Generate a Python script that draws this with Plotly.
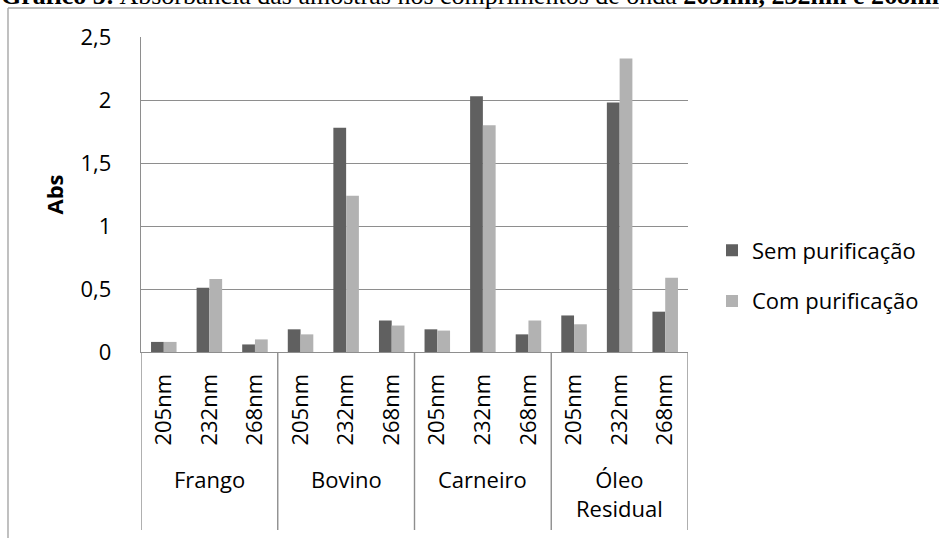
import plotly.graph_objects as go

# ---- data ----
groups = ["Frango", "Bovino", "Carneiro", "Óleo Residual"]
wavelengths = ["205nm", "232nm", "268nm"]
sem_purificacao = [0.08, 0.51, 0.06, 0.18, 1.78, 0.25, 0.18, 2.03, 0.14, 0.29, 1.98, 0.32]
com_purificacao = [0.08, 0.58, 0.10, 0.14, 1.24, 0.21, 0.17, 1.80, 0.25, 0.22, 2.33, 0.59]
y_ticks = [0, 0.5, 1, 1.5, 2, 2.5]
title_text = "<b>Gráfico 5:</b> Absorbância das amostras nos comprimentos de onda <b>205nm, 232nm e 268nm</b>"

# ---- layout geometry (pixels) ----
W, H = 939, 538
PL, PR, PT, PB = 141, 688, 37, 352
pw, ph = PR - PL, PB - PT

def px_x(x):
    return (x - PL) / pw

def px_y(y):
    return (PB - y) / ph

n_w = len(wavelengths)
xs = list(range(len(groups) * n_w))
ticktext = wavelengths * len(groups)

FONT = "Open Sans"
GRID = "#8e8e8e"

fig = go.Figure()
fig.add_bar(x=xs, y=sem_purificacao, name="Sem purificação",
            marker=dict(color="#606060", line=dict(width=0)), legendgroup="a")
fig.add_bar(x=xs, y=com_purificacao, name="Com purificação",
            marker=dict(color="#b2b2b2", line=dict(width=0)), legendgroup="b")

shapes = []
# group dividers below the category axis
for k in range(len(groups) + 1):
    xv = k * n_w - 0.5
    shapes.append(dict(type="line", xref="x", yref="paper", x0=xv, x1=xv,
                       y0=0, y1=px_y(530), line=dict(color=GRID, width=1.4)))
# outer chart frame (partially visible)
shapes.append(dict(type="line", xref="paper", yref="paper", x0=px_x(8), x1=px_x(8),
                   y0=px_y(8), y1=px_y(560), line=dict(color="#a6a6a6", width=1.4)))
shapes.append(dict(type="line", xref="paper", yref="paper", x0=px_x(8), x1=px_x(960),
                   y0=px_y(8), y1=px_y(8), line=dict(color="#a6a6a6", width=1.4)))

annotations = []
for i, g in enumerate(groups):
    annotations.append(dict(x=i * n_w + (n_w - 1) / 2, y=px_y(462), xref="x", yref="paper",
                            text=g.replace(" ", "<br>"), showarrow=False,
                            xanchor="center", yanchor="top",
                            font=dict(family=FONT, size=22, color="black")))
annotations.append(dict(x=px_x(-1), y=px_y(12), xref="paper", yref="paper",
                        text=title_text, showarrow=False, xanchor="left", yanchor="bottom",
                        font=dict(family="Liberation Serif", size=26, color="black")))

fig.update_layout(
    width=W, height=H,
    margin=dict(l=PL, r=W - PR, t=PT, b=H - PB, autoexpand=False),
    paper_bgcolor="white", plot_bgcolor="white",
    separators=",.",
    font=dict(family=FONT, size=22, color="black"),
    barmode="group", bargap=0.44, bargroupgap=0,
    shapes=shapes, annotations=annotations,
    legend=dict(x=px_x(712), y=px_y(276), xanchor="left", yanchor="middle",
                traceorder="grouped", tracegroupgap=19,
                font=dict(family=FONT, size=22, color="black"),
                bgcolor="rgba(0,0,0,0)"),
    xaxis=dict(range=[-0.5, len(xs) - 0.5], tickmode="array", tickvals=xs, ticktext=ticktext,
               tickangle=-90, showgrid=False, zeroline=False, showline=True,
               linecolor=GRID, linewidth=1.4, ticks="", ticklabelstandoff=12,
               fixedrange=True),
    yaxis=dict(range=[0, 2.5], tickmode="array", tickvals=y_ticks, showgrid=True,
               gridcolor=GRID, gridwidth=1.4, zeroline=False, showline=True,
               linecolor=GRID, linewidth=1.4, ticks="", ticklabelstandoff=24,
               title=dict(text="<b>Abs</b>", standoff=10, font=dict(family=FONT, size=22))),
)

fig.write_html("out.html")
